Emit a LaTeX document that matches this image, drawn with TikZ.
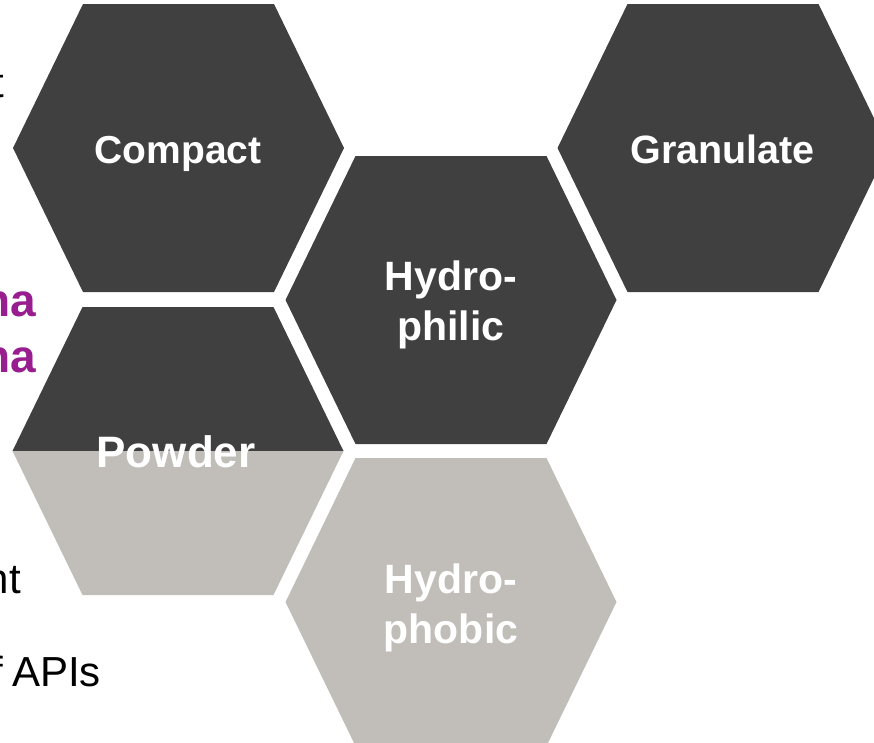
\documentclass[tikz,border=0pt]{standalone}
\usepackage{fontspec}
\setmainfont{Liberation Sans}
\definecolor{hexdarkc}{HTML}{404040}
\definecolor{hexpalec}{HTML}{C1BEBA}
\definecolor{purplec}{HTML}{981E8F}
\tikzset{
  darkhex/.style={fill=hexdarkc, draw=none},
  palehex/.style={fill=hexpalec, draw=none},
  hexlabel/.style={text=white, inner sep=0pt, anchor=base},
  sidetext/.style={text=black, inner sep=0pt, anchor=base east, font=\fontsize{42}{50}\selectfont},
  purpletext/.style={text=purplec, inner sep=0pt, anchor=base east, font=\fontsize{46}{54}\selectfont\bfseries}
}
\newcommand\hexshape{(-165.5,0) -- (-95.5,-144) -- (95.5,-144) -- (165.5,0) -- (95.5,144) -- (-95.5,144) -- cycle}
\begin{document}
\begin{tikzpicture}[x=1pt, y=-1pt]
\useasboundingbox (0,0) rectangle (874,742);
\clip (0,0) rectangle (874,742);
% partially visible side texts (behind hexagons)
\node[sidetext] (t1) at (4,97) {t};
\node[purpletext] (na1) at (36,316) {na};
\node[purpletext] (na2) at (36,372) {na};
\node[sidetext] (nt) at (21,593) {nt};
\node[sidetext] (apis) at (101,686) {of\hspace{-3pt} APIs};
% hexagons
\fill[darkhex, shift={(178.5,148)}] \hexshape;
\fill[darkhex, shift={(723,148)}] \hexshape;
\fill[darkhex, shift={(451,300)}] \hexshape;
\fill[darkhex, shift={(178,451)}] (-165.5,0) -- (-95.5,-144) -- (95.5,-144) -- (165.5,0) -- cycle;
\fill[palehex, shift={(178,451)}] (-165.5,0) -- (165.5,0) -- (95.5,144) -- (-95.5,144) -- cycle;
\fill[palehex, shift={(451,602)}] \hexshape;
% labels
\node[hexlabel, font=\fontsize{39}{47}\selectfont\bfseries] (compact) at (178,163) {Compact};
\node[hexlabel, font=\fontsize{39.5}{47}\selectfont\bfseries] (granulate) at (722.5,163) {Granulate};
\node[hexlabel, font=\fontsize{41}{50}\selectfont\bfseries] (philA) at (451,290) {Hydro-};
\node[hexlabel, font=\fontsize{41}{50}\selectfont\bfseries] (philB) at (451,340) {philic};
\node[hexlabel, font=\fontsize{44}{52}\selectfont\bfseries] (powder) at (176,467) {Powder};
\node[hexlabel, font=\fontsize{41}{50}\selectfont\bfseries] (phobA) at (451,593) {Hydro-};
\node[hexlabel, font=\fontsize{41}{50}\selectfont\bfseries] (phobB) at (451,643) {phobic};
\end{tikzpicture}
\end{document}
